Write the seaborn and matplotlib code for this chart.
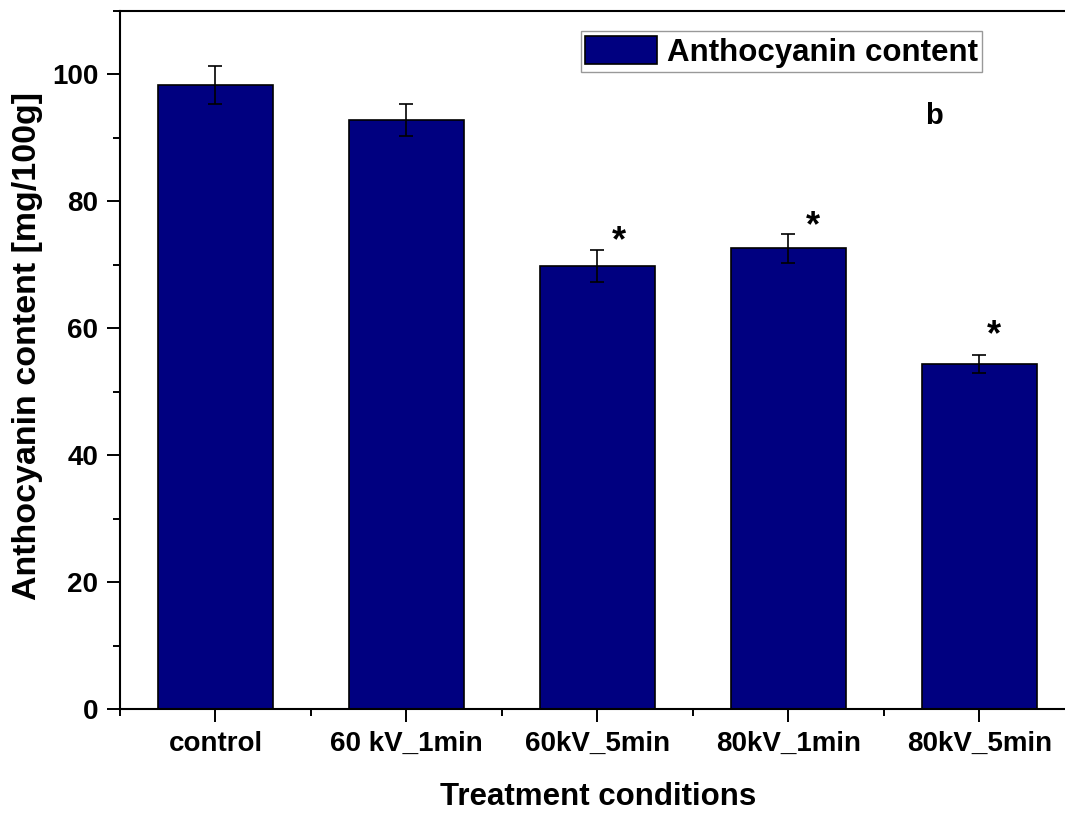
import numpy as np
import pandas as pd
import matplotlib
matplotlib.use("Agg")
import matplotlib.pyplot as plt
from matplotlib.ticker import MultipleLocator, FixedLocator
import seaborn as sns

# Daten
treatments = ["control", "60 kV_1min", "60kV_5min", "80kV_1min", "80kV_5min"]
anthocyanin = [98.4, 92.8, 69.8, 72.6, 54.4]
sd = [3.0, 2.5, 2.5, 2.3, 1.4]
# Signifikanz-Sternchen: Hoehe und seitlicher Versatz (None = kein Stern)
star_level = [None, None, 74.2, 76.6, 59.4]
star_dx = [0, 0, 0.115, 0.13, 0.075]

df = pd.DataFrame({"Treatment": treatments, "Anthocyanin content": anthocyanin})

sns.set_style("ticks")
plt.rcParams["font.family"] = ["Liberation Sans", "DejaVu Sans"]
plt.rcParams.update({
    "font.weight": "bold",
    "text.color": "black",
    "axes.labelcolor": "black",
    "axes.edgecolor": "black",
    "xtick.color": "black",
    "ytick.color": "black",
})

fig = plt.figure(figsize=(10.65, 8.14), dpi=100)
ax = fig.add_axes([120 / 1065, 105 / 814, 974 / 1065, 698 / 814])

sns.barplot(data=df, x="Treatment", y="Anthocyanin content", color="#000080",
            saturation=1, width=0.6, edgecolor="black", linewidth=1.2,
            errorbar=None, ax=ax, label="Anthocyanin content")
ax.errorbar(np.arange(len(treatments)), anthocyanin, yerr=sd, fmt="none",
            ecolor="black", elinewidth=1.2, capsize=4.7, capthick=1.2)

# Sternchen fuer signifikante Unterschiede
for i, (s, dx) in enumerate(zip(star_level, star_dx)):
    if s is not None:
        ax.text(i + dx, s, "*", fontsize=26, fontweight="bold",
                ha="center", va="center_baseline")

ax.text(3.76, 93.5, "b", fontsize=21, fontweight="bold", ha="center", va="center")

ax.set_xlim(-0.5, 4.6)
ax.set_yticks([0, 20, 40, 60, 80, 100])
ax.yaxis.set_minor_locator(MultipleLocator(10))
ax.xaxis.set_minor_locator(FixedLocator([-0.5, 0.5, 1.5, 2.5, 3.5, 4.5]))
ax.set_ylim(0, 110)

ax.tick_params(axis="both", which="major", direction="out", length=9.5, width=1.4,
               labelsize=20, pad=6)
ax.tick_params(axis="both", which="minor", direction="out", length=5, width=1.4)
for lab in ax.get_xticklabels() + ax.get_yticklabels():
    lab.set_fontweight("bold")

for side in ["left", "bottom", "top", "right"]:
    ax.spines[side].set_linewidth(1.5)
    ax.spines[side].set_visible(True)

ax.set_xlabel("Treatment conditions", fontsize=22.5, fontweight="bold")
ax.set_ylabel("Anthocyanin content [mg/100g]", fontsize=24.5, fontweight="bold")
ax.xaxis.set_label_coords(0.491, -0.105)
ax.yaxis.set_label_coords(-0.079, 0.52)

leg = ax.legend(loc="upper left", bbox_to_anchor=(0.473, 0.971), fontsize=22.5,
                frameon=True, fancybox=False, edgecolor="gray", handlelength=2.3,
                handleheight=1.0, borderpad=0.15, handletextpad=0.3, borderaxespad=0)
leg.get_frame().set_linewidth(1.0)
for t in leg.get_texts():
    t.set_fontweight("bold")

fig.savefig("out.png", dpi=100)
